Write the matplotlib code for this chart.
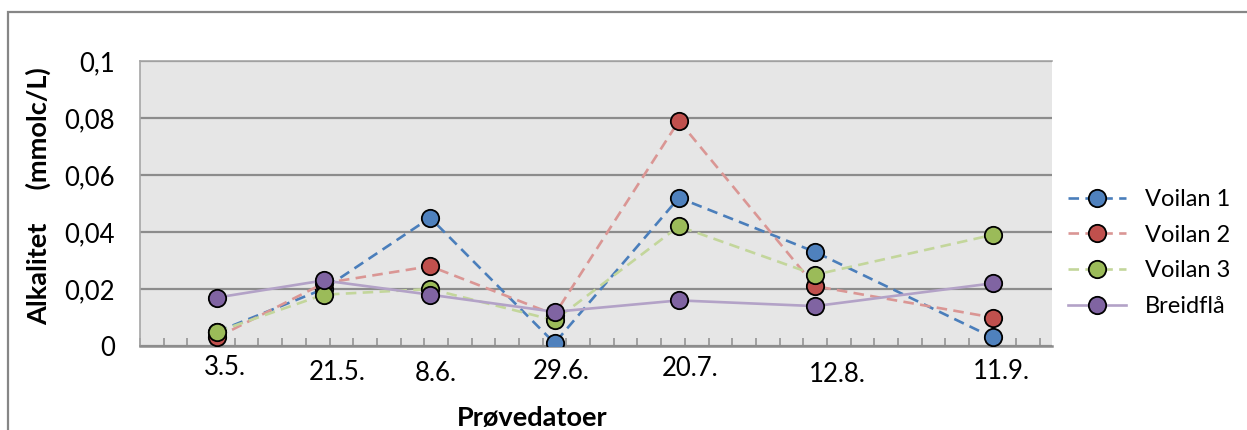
import datetime as dt
import numpy as np
import matplotlib
matplotlib.use("Agg")
import matplotlib.pyplot as plt
import matplotlib.dates as mdates
from matplotlib.patches import Rectangle

plt.rcParams['font.family'] = ['Lato', 'DejaVu Sans']

# Sampling dates and alkalinity values (mmolc/L)
dates = [dt.date(2011, 5, 3), dt.date(2011, 5, 21), dt.date(2011, 6, 8),
         dt.date(2011, 6, 29), dt.date(2011, 7, 20), dt.date(2011, 8, 12),
         dt.date(2011, 9, 11)]
date_labels = ["3.5.", "21.5.", "8.6.", "29.6.", "20.7.", "12.8.", "11.9."]

voilan1 = [0.005, 0.020, 0.045, 0.001, 0.052, 0.033, 0.003]
voilan2 = [0.003, 0.022, 0.028, 0.011, 0.079, 0.021, 0.010]
voilan3 = [0.005, 0.018, 0.020, 0.009, 0.042, 0.025, 0.039]
breidfla = [0.017, 0.023, 0.018, 0.012, 0.016, 0.014, 0.022]

series_names = ["Voilan 1", "Voilan 2", "Voilan 3", "Breidflå"]
y_ticks = [0, 0.02, 0.04, 0.06, 0.08, 0.1]
y_tick_labels = ["0", "0,02", "0,04", "0,06", "0,08", "0,1"]

# Styling
marker_colors = ["#4F81BD", "#C0504D", "#9BBB59", "#8064A2"]
line_colors = ["#4A7EBB", "#DA9694", "#C3D69B", "#B3A2C7"]
line_styles = [(0, (4, 2.4)), (0, (4, 2.4)), (0, (4, 2.4)), "-"]

# label offsets in pixels (dx right, dy down from axis line to text top)
label_dx = [8, 14, 6, 7, 11, 22, 9]
label_dy = [9, 14, 15, 13, 10, 16, 13]

W, H = 1247, 430
fig = plt.figure(figsize=(W / 100, H / 100), dpi=100)
fig.patch.set_facecolor("white")

# chart outer frame
fig.add_artist(Rectangle((8 / W, -0.1), 1.2, (H - 12) / H + 0.1,
                         transform=fig.transFigure, fill=False,
                         edgecolor="#868686", linewidth=1.6))

ax = fig.add_axes([140 / W, (H - 346) / H, (1052 - 140) / W, (346 - 61) / H])
ax.set_facecolor("#E6E6E6")

x = mdates.date2num(dates)
all_series = [voilan1, voilan2, voilan3, breidfla]
handles = []
for vals, name, mc, lc, ls in zip(all_series, series_names, marker_colors,
                                  line_colors, line_styles):
    h, = ax.plot(x, vals, color=lc, linestyle=ls, linewidth=1.9,
                 marker="o", markersize=12.5, markerfacecolor=mc,
                 markeredgecolor="black", markeredgewidth=1.3,
                 label=name, zorder=3)
    handles.append(h)

xmin = mdates.date2num(dt.date(2011, 4, 20))
xmax = mdates.date2num(dt.date(2011, 9, 21))
ax.set_xlim(xmin, xmax)
ax.set_ylim(0, 0.1)

ax.set_yticks(y_ticks)
ax.set_yticklabels(y_tick_labels)
ax.tick_params(axis="y", length=0, pad=18, labelsize=18.5)
ax.yaxis.grid(True, color="#8C8C8C", linewidth=1.6)
ax.set_axisbelow(True)

ax.set_xticks([])
ax.set_xticks(np.arange(xmin, xmax + 0.5, 4), minor=True)
ax.tick_params(axis="x", which="minor", direction="in", length=5.5,
               width=1.1, color="#8C8C8C")

for sp in ["left", "top"]:
    ax.spines[sp].set_color("#A6A6A6")
    ax.spines[sp].set_linewidth(1.2)
ax.spines["right"].set_visible(False)
ax.spines["bottom"].set_color("#8C8C8C")
ax.spines["bottom"].set_linewidth(1.8)

for xv, lab, dx, dy in zip(x, date_labels, label_dx, label_dy):
    ax.annotate(lab, xy=(xv, 0), xycoords=("data", "axes fraction"),
                xytext=(dx * 0.72, -dy * 0.72), textcoords="offset points",
                ha="center", va="top", fontsize=18.5)

fig.text(38 / W, (H - 196) / H, "Alkalitet     (mmolc/L)", rotation=90,
         ha="center", va="center", fontsize=19.5, fontweight="bold")
fig.text(532 / W, (H - 426) / H, "Prøvedatoer", ha="center", va="baseline",
         fontsize=19.5, fontweight="bold")

ax.legend(handles=handles, loc="upper left", frameon=False,
          bbox_to_anchor=(1068 / W, (H - 189) / H),
          bbox_transform=fig.transFigure, fontsize=17,
          handlelength=2.45, handletextpad=0.8, labelspacing=0.62,
          borderaxespad=0, borderpad=0)

fig.savefig("out.png", dpi=100)
